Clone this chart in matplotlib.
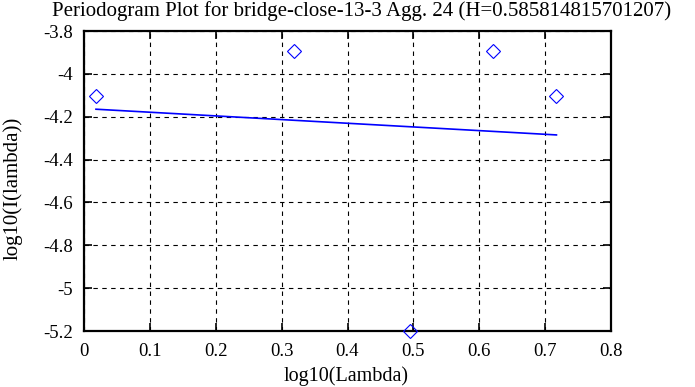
import matplotlib
matplotlib.use("Agg")
import matplotlib.pyplot as plt
from matplotlib.ticker import FuncFormatter

title = "Periodogram Plot for bridge-close-13-3 Agg. 24 (H=0.585814815701207)"
log_lambda = [0.0182, 0.3192, 0.4953, 0.6203, 0.7172]
log_I = [-4.102, -3.893, -5.2, -3.893, -4.102]
fit_x = [0.0182, 0.7172]
fit_y = [-4.165, -4.285]
xticks = [0, 0.1, 0.2, 0.3, 0.4, 0.5, 0.6, 0.7, 0.8]
yticks = [-5.2, -5.0, -4.8, -4.6, -4.4, -4.2, -4.0, -3.8]

plt.rcParams['font.family'] = ['Liberation Serif', 'DejaVu Serif']
FS = 13.5
fig = plt.figure(figsize=(6.95, 3.87), dpi=100)
ax = fig.add_axes([84/695, 56/387, (611-84)/695, (331-31)/387])

ax.plot(fit_x, fit_y, color='#0000ff', lw=1.2, zorder=3)
ax.plot(log_lambda, log_I, linestyle='none', marker='D', markersize=7,
        markerfacecolor='none', markeredgecolor='#0000ff', markeredgewidth=0.8,
        clip_on=False, zorder=4)

ax.set_xlim(0, 0.8)
ax.set_ylim(-5.2, -3.8)
ax.set_xticks(xticks)
ax.set_yticks(yticks)
fmt = FuncFormatter(lambda v, p: ('%g' % round(v, 4)))
ax.xaxis.set_major_formatter(fmt)
ax.yaxis.set_major_formatter(fmt)
ax.grid(True, color='black', linestyle=(0, (4, 4)), linewidth=0.8)
ax.tick_params(direction='in', length=6, width=1.2, top=True, right=True,
               labelsize=FS, colors='black')
ax.tick_params(axis='x', pad=9)
ax.tick_params(axis='y', pad=8)
for s in ax.spines.values():
    s.set_linewidth(1.6)

fig.text(362/695, 1 - 11/387, title, fontsize=15, ha='center', va='center')
fig.text(346/695, 1 - 376/387, "log10(Lambda)", fontsize=14.5, ha='center', va='center')
fig.text(13/695, 1 - 188/387, "log10(I(lambda))", fontsize=15, ha='center', va='center',
         rotation=90)

fig.savefig("out.png", dpi=100)
